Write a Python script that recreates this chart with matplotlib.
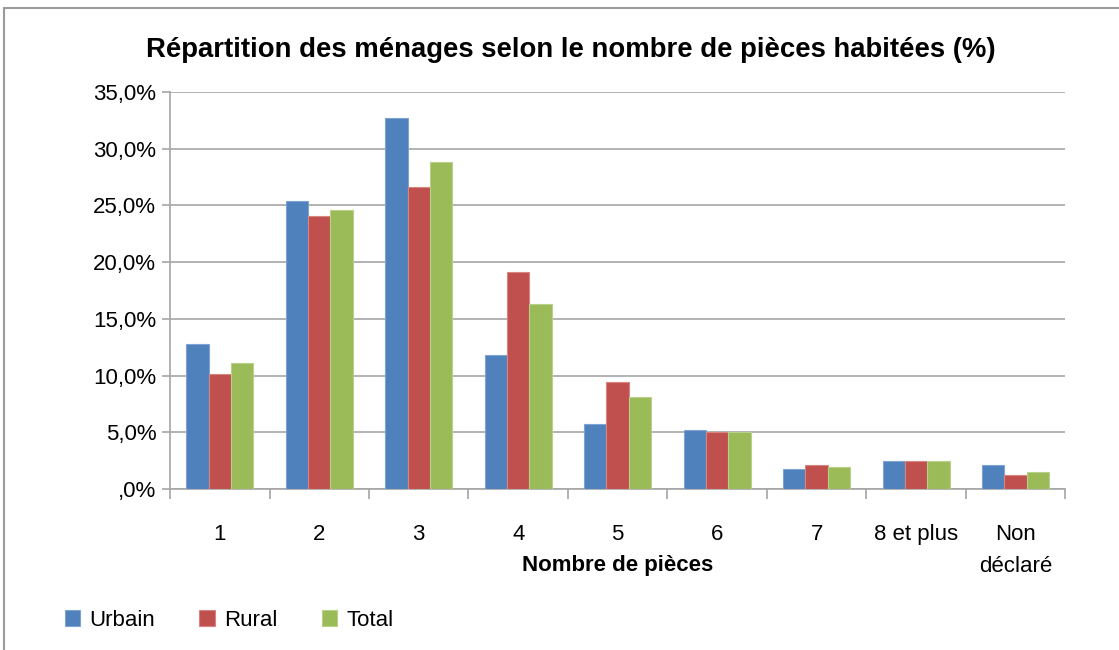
import numpy as np
import matplotlib
matplotlib.use("Agg")
import matplotlib.pyplot as plt
from matplotlib.patches import Rectangle
from matplotlib.ticker import FuncFormatter, FixedLocator

# données
categories = ["1", "2", "3", "4", "5", "6", "7", "8 et plus", "Non\ndéclaré"]
urbain = [12.8, 25.4, 32.7, 11.8, 5.7, 5.2, 1.8, 2.5, 2.1]
rural = [10.1, 24.1, 26.6, 19.1, 9.4, 5.0, 2.1, 2.5, 1.2]
total = [11.1, 24.6, 28.8, 16.3, 8.1, 5.0, 1.9, 2.5, 1.5]
series = ["Urbain", "Rural", "Total"]
colors = ["#4F81BD", "#C0504D", "#9BBB59"]
edges = ["#7FA3D3", "#D88582", "#B8D08A"]

plt.rcParams['font.family'] = ['Liberation Sans', 'DejaVu Sans']

fig = plt.figure(figsize=(11.19, 6.50), dpi=100)
ax = fig.add_axes([0.152, 0.2477, 0.8, 0.6108])

# cadre extérieur
fig.patches.append(Rectangle((4 / 1119, -0.05), 1.2, 1 - 8 / 650 + 0.05,
                             transform=fig.transFigure, fill=False,
                             edgecolor="#9a9a9a", linewidth=1.5))

x = np.arange(len(categories))
w = 0.225
for i, (vals, name) in enumerate(zip([urbain, rural, total], series)):
    ax.bar(x + (i - 1) * w, vals, width=w, color=colors[i], edgecolor=edges[i],
           linewidth=0.8, label=name, zorder=3)

ax.set_xlim(-0.5, len(categories) - 0.5)
ax.set_ylim(0, 35)
ax.set_yticks(np.arange(0, 36, 5))
ax.yaxis.set_major_formatter(FuncFormatter(
    lambda v, p: (",0%" if v == 0 else f"{v:.1f}%".replace(".", ","))))
ax.grid(axis="y", color="#a6a6a6", linewidth=1.2, zorder=0)

ax.set_xticks(x)
ax.set_xticklabels(categories, fontsize=16, linespacing=1.7)
ax.tick_params(axis="x", which="major", length=0, pad=25)
ax.xaxis.set_minor_locator(FixedLocator(np.arange(-0.5, len(categories), 1)))
ax.tick_params(axis="x", which="minor", length=7, color="#a6a6a6", width=1.2)
ax.tick_params(axis="y", labelsize=16, length=6, color="#a6a6a6", width=1.2, pad=4)

for s in ["top", "right"]:
    ax.spines[s].set_visible(False)
for s in ["left", "bottom"]:
    ax.spines[s].set_color("#a6a6a6")
    ax.spines[s].set_linewidth(1.2)

fig.text(0.5515, 1 - 566 / 650, "Nombre de pièces", ha="center", va="center",
         fontsize=16, fontweight="bold")
fig.text(0.51, 0.923, "Répartition des ménages selon le nombre de pièces habitées (%)",
         ha="center", va="center", fontsize=19.8, fontweight="bold")

leg = ax.legend(loc="center left", ncol=3, frameon=False, fontsize=16,
                handlelength=0.7, handleheight=0.7,
                columnspacing=2.0, handletextpad=0.4)
leg.set_bbox_to_anchor((0.04, 1 - 620 / 650), transform=fig.transFigure)

fig.savefig("out.png", dpi=100, facecolor="white")
